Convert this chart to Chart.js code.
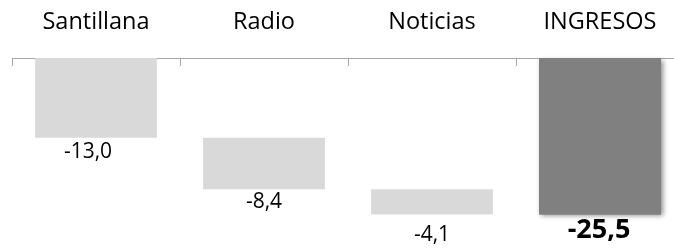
<!DOCTYPE html>
<html>
<head>
<meta charset="utf-8">
<script src="https://cdn.jsdelivr.net/npm/chart.js@4"></script>
<style>
  html, body { margin: 0; padding: 0; background: #fff; overflow: hidden; }
  #wrap { width: 686px; height: 248px; }
</style>
</head>
<body>
<div id="wrap"><canvas id="chart" width="686" height="248"></canvas></div>
<script>
// waterfall: three contributions and the total
const categories = ["Santillana", "Radio", "Noticias", "INGRESOS"];
const changes = [-13.0, -8.4, -4.1];
const total = -25.5;
const valueLabels = ["-13,0", "-8,4", "-4,1", "-25,5"];

// floating bars built from the running sum
const ranges = [];
let run = 0;
changes.forEach((c) => {
  ranges.push([run, run + c]);
  run += c;
});
ranges.push([0, total]);

const barColors = ["#d9d9d9", "#d9d9d9", "#d9d9d9", "#808080"];

const FONT = "'Open Sans', sans-serif";

// category labels, axis line and tick marks hanging down into the plot
const axisPlugin = {
  id: "topAxis",
  beforeDatasetsDraw(chart) {
    const ctx = chart.ctx;
    const area = chart.chartArea;
    const x = chart.scales.x;
    ctx.save();
    ctx.strokeStyle = "#a6a6a6";
    ctx.lineWidth = 1;
    ctx.beginPath();
    ctx.moveTo(area.left, area.top + 0.5);
    ctx.lineTo(area.right, area.top + 0.5);
    for (let i = 0; i <= categories.length; i++) {
      const px = Math.round(x.getPixelForValue(i - 0.5)) + 0.5;
      ctx.moveTo(px, area.top);
      ctx.lineTo(px, area.top + 8);
    }
    ctx.stroke();

    ctx.fillStyle = "#000";
    ctx.textAlign = "center";
    ctx.textBaseline = "middle";
    ctx.font = "23.5px " + FONT;
    categories.forEach((c, i) => {
      ctx.fillText(c, x.getPixelForValue(i), area.top - 36);
    });

    // soft shadow under the total bar
    const bar = chart.getDatasetMeta(0).data[3];
    const left = bar.x - bar.width / 2;
    const top = Math.min(bar.y, bar.base);
    const h = Math.abs(bar.base - bar.y);
    ctx.shadowColor = "rgba(0,0,0,0.45)";
    ctx.shadowBlur = 5;
    ctx.shadowOffsetX = 2;
    ctx.shadowOffsetY = 2;
    ctx.fillStyle = barColors[3];
    ctx.fillRect(left, top, bar.width, h);
    ctx.restore();
  },
};

// value labels under each bar
const labelPlugin = {
  id: "valueLabels",
  afterDatasetsDraw(chart, args, opts) {
    const ctx = chart.ctx;
    const meta = chart.getDatasetMeta(0);
    ctx.save();
    ctx.textAlign = "center";
    ctx.textBaseline = "middle";
    ctx.fillStyle = "#000";
    meta.data.forEach((bar, i) => {
      const bottom = Math.max(bar.y, bar.base);
      ctx.font = i === 3 ? "bold 27px " + FONT : "21px " + FONT;
      ctx.fillText(valueLabels[i], bar.x + opts.dx[i], bottom + opts.dy[i]);
    });
    ctx.restore();
  },
};

new Chart(document.getElementById("chart"), {
  type: "bar",
  data: {
    labels: categories,
    datasets: [
      {
        data: ranges,
        backgroundColor: barColors,
        borderWidth: 0,
        barPercentage: 0.725,
        categoryPercentage: 1,
      },
    ],
  },
  options: {
    responsive: false,
    devicePixelRatio: 1,
    animation: false,
    layout: { padding: { top: 58, left: 12, right: 2, bottom: 6 } },
    plugins: {
      legend: { display: false },
      tooltip: { enabled: false },
      valueLabels: { dx: [-8, 0, 0, -1], dy: [14, 13, 21, 16] },
    },
    scales: {
      x: { display: false, offset: true },
      y: { display: false, min: -30, max: 0 },
    },
  },
  plugins: [axisPlugin, labelPlugin],
});
</script>
</body>
</html>
